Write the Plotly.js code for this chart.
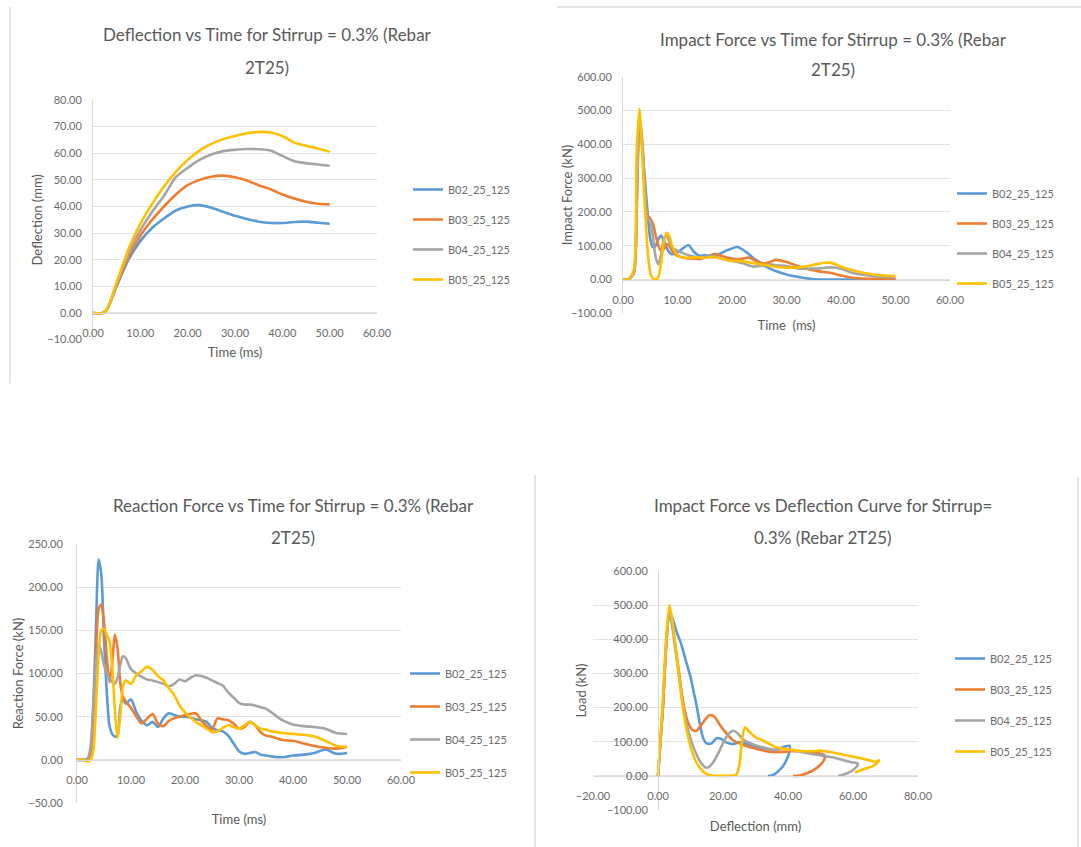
<!DOCTYPE html>
<html>
<head>
<meta charset="utf-8">
<script src="https://cdn.plot.ly/plotly-3.0.1.min.js"></script>
<style>html,body{margin:0;padding:0;background:#fff;}#chart{width:1081px;height:847px;}</style>
</head>
<body>
<div id="chart"></div>
<script>
// ---------------- DATA ----------------
const seriesNames = ['B02_25_125', 'B03_25_125', 'B04_25_125', 'B05_25_125'];

// Chart 1: Deflection vs Time
const timeDefl = [0,2,3,5,7.5,10,12.5,15,17.5,20,22.5,25,27.5,30,32.5,35,37.5,40,42.5,45,47.5,50];
const deflB02 = [0,0,1.5,10,20,27,32,35.5,38.5,40,40.5,39.5,38,36.5,35.3,34.3,33.8,33.8,34.2,34.3,33.9,33.5];
const deflB03 = [0,0,1.5,10.5,21,29,35,40,44.5,48,50,51.2,51.6,51,49.8,48,46.5,44.5,43,41.8,41,40.8];
const deflB04 = [0,0,1.5,11,22.5,31,38,44,51,54.5,57.5,59.5,60.8,61.3,61.6,61.5,61,59,57,56.3,55.8,55.3];
const deflB05 = [0,0,1.5,11.5,24,33.5,41,47.5,53,57.5,61,63.5,65.3,66.5,67.5,68,67.8,66.5,64,62.8,61.8,60.6];

// Chart 2: Impact Force vs Time
const timeImpact = [0,1,2,2.5,3,3.5,4,4.5,5,5.5,6,6.5,7,7.5,8,8.5,9,10,11,12,13,14,15,16,17,18,19,20,21,22,23,24,25,26,27,28,30,32,34,36,38,40,42,44,46,48,50];
const impactB02 = [0,0,25,250,470,400,300,200,120,95,100,120,130,115,95,80,75,
  80,92,102,82,70,72,70,72,78,86,92,96,88,76,62,52,40,32,25,
  15,8,3,0,0,0,0,0,0,0,0];
const impactB03 = [0,0,20,200,460,400,260,190,180,165,130,100,85,90,105,100,85,
  70,65,62,62,60,65,72,75,70,65,62,60,62,65,58,50,48,52,58,
  52,40,30,24,20,12,5,3,2,2,2];
const impactB04 = [0,0,20,210,480,420,270,180,172,125,65,45,75,120,128,112,95,
  85,78,72,68,65,68,70,68,62,58,55,52,48,42,38,40,42,45,42,
  40,33,32,33,36,32,20,14,10,8,6];
const impactB05 = [0,0,30,370,505,380,220,90,20,2,0,8,50,110,138,128,100,
  72,65,64,66,65,64,66,65,62,58,55,55,54,51,48,46,44,40,38,
  35,36,40,47,50,38,28,20,15,12,10];

// Chart 3: Reaction Force vs Time
const timeReact = [0,1,2,2.5,3,3.5,4,4.5,5,5.5,6,6.5,7,7.5,8,8.5,9,
  10,11,12,13,14,15,16,17,18,19,20,21,22,23,24,25,26,27,28,29,30,31,32,33,34,35,36,
  38,40,42,44,46,48,50];
const reactB02 = [0,0,0,10,60,150,232,215,140,80,40,30,27,28,60,72,65,
  70,55,45,40,44,38,48,54,52,50,50,49,47,46,44,37,34,33,28,19,10,7,8,9,6,5,4,
  3,5,6,8,12,7,8];
const reactB03 = [0,0,0,5,40,120,175,180,160,120,90,110,145,130,90,73,68,
  60,50,42,48,53,42,39,45,48,50,52,53,54,46,39,35,48,47,46,42,36,38,44,40,32,28,27,
  23,22,19,16,14,13,15];
const reactB04 = [0,0,2,15,60,110,135,125,110,100,95,90,88,95,110,120,118,
  105,100,96,93,92,90,88,85,88,93,91,95,98,97,95,92,89,86,78,72,66,64,64,63,61,59,55,
  46,41,39,38,36,31,30];
const reactB05 = [0,0,-2,0,10,60,120,150,152,145,138,110,60,25,50,85,92,
  88,98,103,108,104,97,92,83,75,63,55,49,44,40,36,32,33,37,40,38,36,40,44,40,36,35,33,
  31,30,29,27,22,16,15];

// Chart 4: Impact Force (Load) vs Deflection
const curveDeflB02 = [0,1.5,2.5,3.5,4.5,5.8,7,8.5,10,11,12,13,14,15,16.5,18,19.5,21,23,25,27,29,31,33,35,37,39,40.5,40.3,39.7,38.7,37.5,36,34.5,33.8];
const curveLoadB02 = [0,200,380,480,460,420,390,340,290,245,200,145,108,95,95,110,108,98,93,98,95,88,82,80,76,78,86,88,65,50,32,18,6,0,0];
const curveDeflB03 = [0,1.5,2.5,3.5,4.5,5.5,6.5,7.5,8.5,9.5,10.5,11.8,13,14.5,16,17.5,19,21,23,25,27,29,32,35,38,41,44,47,49.5,51.3,51,49.5,47.5,45,43,41.5];
const curveLoadB03 = [0,200,380,485,440,370,300,230,180,150,135,132,145,165,178,172,150,125,105,95,88,82,75,70,70,72,72,70,66,60,45,28,15,5,0,0];
const curveDeflB04 = [0,1.5,2.5,3.5,4.5,5.5,6.5,7.5,8.5,9.5,10.5,11.5,12.5,13.5,14.5,15.5,17,18.5,20,21.5,23,24.5,26,28,30,33,36,39,42,46,50,54,57,59.5,61.5,61,59.5,57.5,55.5];
const curveLoadB04 = [0,200,380,480,430,360,290,220,165,125,95,70,50,35,25,25,40,65,95,120,132,125,108,97,90,82,76,80,74,66,60,54,46,40,36,25,14,5,0];
const curveDeflB05 = [0,1.5,2.5,3.5,4.5,5.5,6.5,7.5,8.5,9.5,10.5,11.5,13,14.5,16,18,20,22,24,25,25.8,26.7,28,30,32,34,36,38,41,44,47,50,53,56,59,62,65,67,68,67.5,66,64,62,60.6];
const curveLoadB05 = [0,220,400,500,450,370,290,210,150,105,70,45,22,8,2,0,0,0,3,30,100,142,130,113,105,95,85,80,76,73,72,74,70,64,58,52,46,42,46,38,28,22,15,10];

// Text
const chartTitles = [
  ['Deflection vs Time for Stirrup = 0.3% (Rebar', '2T25)'],
  ['Impact Force vs Time for Stirrup = 0.3% (Rebar', '2T25)'],
  ['Reaction Force vs Time for Stirrup = 0.3% (Rebar', '2T25)'],
  ['Impact Force vs Deflection Curve for Stirrup=', '0.3% (Rebar 2T25)']
];
const xTitles = ['Time (ms)', 'Time  (ms)', 'Time (ms)', 'Deflection (mm)'];
const yTitles = ['Deflection (mm)', 'Impact Force (kN)', 'Reaction Force (kN)', 'Load (kN)'];

// ---------------- STYLE / LAYOUT ----------------
const W = 1081, H = 847;
const fx = px => px / W;
const fy = py => 1 - py / H;
const FONT = 'Lato, "Open Sans", sans-serif';
const colors = ['#5B9BD5', '#ED7D31', '#A5A5A5', '#FFC000'];
const TICKC = '#6b6b6b', TXTC = '#595959', GRID = '#e3e3e3', AXL = '#d9d9d9';

const traces = [];
function addSeries(xs, ysList, xa, ya, leg) {
  ysList.forEach((s, i) => {
    traces.push({
      type: 'scatter', mode: 'lines', name: seriesNames[i],
      x: s.x || xs, y: s.y || s,
      xaxis: xa, yaxis: ya, legend: leg, legendgroup: leg + i,
      line: {color: colors[i], width: 2.6, shape: 'spline', smoothing: 0.7},
      hoverinfo: 'skip'
    });
  });
}
addSeries(timeDefl, [deflB02, deflB03, deflB04, deflB05], 'x', 'y', 'legend');
addSeries(timeImpact, [impactB02, impactB03, impactB04, impactB05], 'x2', 'y2', 'legend2');
addSeries(timeReact, [reactB02, reactB03, reactB04, reactB05], 'x3', 'y3', 'legend3');
addSeries(null, [
  {x: curveDeflB02, y: curveLoadB02}, {x: curveDeflB03, y: curveLoadB03},
  {x: curveDeflB04, y: curveLoadB04}, {x: curveDeflB05, y: curveLoadB05}
], 'x4', 'y4', 'legend4');

function xAxis(dom, range, dtick, zeroPy, title, standoff) {
  return {
    domain: [fx(dom[0]), fx(dom[1])], range: range, dtick: dtick, tick0: 0,
    anchor: 'free', position: fy(zeroPy),
    showgrid: false, zeroline: false, showline: true, linecolor: AXL, linewidth: 1,
    ticks: '', ticklabelstandoff: 10, tickformat: '.2f',
    tickfont: {family: FONT, size: 11, color: TICKC},
    title: {text: title, font: {family: FONT, size: 13, color: TXTC}, standoff: standoff},
    fixedrange: true
  };
}
function yAxis(dom, range, dtick, title, standoff, extra) {
  return Object.assign({
    domain: [fy(dom[0]), fy(dom[1])], range: range, dtick: dtick, tick0: 0,
    showgrid: true, gridcolor: GRID, gridwidth: 1, zeroline: false,
    showline: true, linecolor: AXL, linewidth: 1,
    ticks: '', ticklabelstandoff: 8, tickformat: '.2f',
    tickfont: {family: FONT, size: 11, color: TICKC},
    title: {text: title, font: {family: FONT, size: 13, color: TXTC}, standoff: standoff},
    fixedrange: true
  }, extra || {});
}

const legendBase = {
  xanchor: 'left', yanchor: 'top', bgcolor: 'rgba(0,0,0,0)', borderwidth: 0,
  font: {family: FONT, size: 11, color: TICKC}, tracegroupgap: 11, itemclick: false
};

const titlePos = [[267, 35, 67], [833, 40, 70], [293, 505, 537], [823, 505, 537]];
const annotations = [];
chartTitles.forEach((lines, k) => {
  const p = titlePos[k];
  lines.forEach((txt, j) => {
    annotations.push({
      text: txt, xref: 'paper', yref: 'paper', x: fx(p[0]), y: fy(p[1 + j]),
      xanchor: 'center', yanchor: 'middle', showarrow: false,
      font: {family: FONT, size: 17, color: TXTC}
    });
  });
});

function vline(px, py0, py1) {
  return {type: 'line', xref: 'paper', yref: 'paper', x0: fx(px), x1: fx(px), y0: fy(py0), y1: fy(py1),
    line: {color: '#dcdcdc', width: 1.5}};
}
function hline(py, px0, px1) {
  return {type: 'line', xref: 'paper', yref: 'paper', x0: fx(px0), x1: fx(px1), y0: fy(py), y1: fy(py),
    line: {color: '#dcdcdc', width: 1.5}};
}

const layout = {
  width: W, height: H, margin: {l: 0, r: 0, t: 0, b: 0},
  paper_bgcolor: '#ffffff', plot_bgcolor: 'rgba(0,0,0,0)',
  font: {family: FONT, color: TXTC},
  showlegend: true,
  xaxis: xAxis([93, 377], [0, 60], 10, 313, xTitles[0], 9),
  yaxis: yAxis([339.6, 100], [-10, 80], 10, yTitles[0], 1, {anchor: 'x'}),
  xaxis2: xAxis([623, 950], [0, 60], 10, 279.5, xTitles[1], 16),
  yaxis2: yAxis([313.3, 76.7], [-100, 600], 100, yTitles[1], -3, {anchor: 'x2'}),
  xaxis3: xAxis([77, 401], [0, 60], 10, 760, xTitles[2], 29),
  yaxis3: yAxis([803, 544], [-50, 250], 50, yTitles[2], 1, {anchor: 'x3', ticklabelstandoff: 11}),
  xaxis4: xAxis([593, 918], [-20, 80], 20, 776, xTitles[3], 20),
  yaxis4: yAxis([810, 571], [-100, 600], 100, yTitles[3], 16, {anchor: 'free', position: fx(658)}),
  legend: Object.assign({x: fx(408), y: fy(175)}, legendBase),
  legend2: Object.assign({x: fx(952), y: fy(179)}, legendBase),
  legend3: Object.assign({x: fx(405), y: fy(659)}, legendBase, {tracegroupgap: 14}),
  legend4: Object.assign({x: fx(950), y: fy(644)}, legendBase, {tracegroupgap: 12}),
  annotations: annotations,
  shapes: [vline(10, 7, 383), hline(7, 557, 1081), vline(535, 475, 847), vline(1078, 477, 847)]
};

Plotly.newPlot('chart', traces, layout, {staticPlot: true, displayModeBar: false});
</script>
</body>
</html>
